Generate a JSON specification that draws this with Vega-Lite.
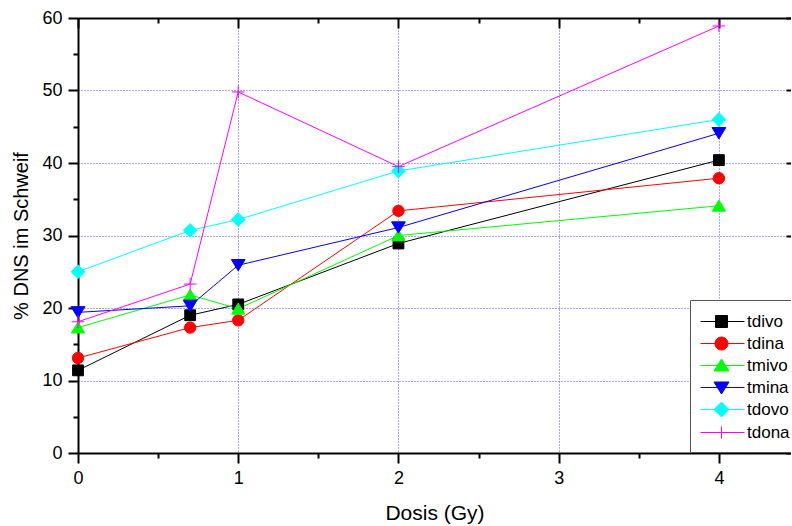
{
  "$schema": "https://vega.github.io/schema/vega-lite/v6.json",
  "autosize": {"type": "none"},
  "padding": {"left": 78, "top": 18, "right": 0, "bottom": 73},
  "width": 713,
  "height": 435,
  "background": "white",
  "config": {"view": {"stroke": null}, "font": "Liberation Sans"},
  "data": {
    "values": [
      {"series": "tdivo", "dose": 0, "pct": 11.4},
      {"series": "tdivo", "dose": 0.7, "pct": 19.0},
      {"series": "tdivo", "dose": 1, "pct": 20.5},
      {"series": "tdivo", "dose": 2, "pct": 28.9},
      {"series": "tdivo", "dose": 4, "pct": 40.4},
      {"series": "tdina", "dose": 0, "pct": 13.1},
      {"series": "tdina", "dose": 0.7, "pct": 17.3},
      {"series": "tdina", "dose": 1, "pct": 18.3},
      {"series": "tdina", "dose": 2, "pct": 33.4},
      {"series": "tdina", "dose": 4, "pct": 37.9},
      {"series": "tmivo", "dose": 0, "pct": 17.3},
      {"series": "tmivo", "dose": 0.7, "pct": 21.8},
      {"series": "tmivo", "dose": 1, "pct": 19.9},
      {"series": "tmivo", "dose": 2, "pct": 30.0},
      {"series": "tmivo", "dose": 4, "pct": 34.1},
      {"series": "tmina", "dose": 0, "pct": 19.4},
      {"series": "tmina", "dose": 0.7, "pct": 20.3},
      {"series": "tmina", "dose": 1, "pct": 25.9},
      {"series": "tmina", "dose": 2, "pct": 31.1},
      {"series": "tmina", "dose": 4, "pct": 44.1},
      {"series": "tdovo", "dose": 0, "pct": 25.0},
      {"series": "tdovo", "dose": 0.7, "pct": 30.7},
      {"series": "tdovo", "dose": 1, "pct": 32.2},
      {"series": "tdovo", "dose": 2, "pct": 38.9},
      {"series": "tdovo", "dose": 4, "pct": 46.0},
      {"series": "tdona", "dose": 0, "pct": 18.1},
      {"series": "tdona", "dose": 0.7, "pct": 23.3},
      {"series": "tdona", "dose": 1, "pct": 49.8},
      {"series": "tdona", "dose": 2, "pct": 39.5},
      {"series": "tdona", "dose": 4, "pct": 58.9}
    ]
  },
  "layer": [
    {
      "mark": {"type": "line", "strokeWidth": 1},
      "encoding": {
        "x": {
          "field": "dose", "type": "quantitative",
          "scale": {"domain": [0, 4.45], "nice": false, "zero": false},
          "axis": {
            "orient": "bottom",
            "values": [0, 0.5, 1, 1.5, 2, 2.5, 3, 3.5, 4],
            "labelExpr": "datum.value % 1 === 0 ? format(datum.value, 'd') : ''",
            "tickSize": {"condition": {"test": "datum.value % 1 !== 0", "value": 5}, "value": 10},
            "tickWidth": 2, "tickColor": "black",
            "domainColor": "black", "domainWidth": 2,
            "labelFont": "Liberation Sans", "labelFontSize": 18, "labelColor": "black",
            "labelPadding": 6, "labelFlush": false, "labelOverlap": false,
            "grid": true, "gridColor": "#4d4dff", "gridDash": [1, 2], "gridWidth": 1,
            "gridOpacity": {"condition": {"test": "datum.value % 1 !== 0", "value": 0}, "value": 1},
            "title": "Dosis (Gy)", "titleFont": "Liberation Sans", "titleFontSize": 21,
            "titleFontWeight": "normal", "titleColor": "black", "titlePadding": 15
          }
        },
        "y": {
          "field": "pct", "type": "quantitative",
          "scale": {"domain": [0, 60], "nice": false},
          "axis": {
            "orient": "left",
            "values": [0, 5, 10, 15, 20, 25, 30, 35, 40, 45, 50, 55, 60],
            "labelExpr": "datum.value % 10 === 0 ? format(datum.value, 'd') : ''",
            "tickSize": {"condition": {"test": "datum.value % 10 !== 0", "value": 5}, "value": 10},
            "tickWidth": 2, "tickColor": "black",
            "domainColor": "black", "domainWidth": 2,
            "labelFont": "Liberation Sans", "labelFontSize": 18, "labelColor": "black",
            "labelPadding": 6, "labelFlush": false, "labelOverlap": false,
            "grid": true, "gridColor": "#4d4dff", "gridDash": [1, 2], "gridWidth": 1,
            "gridOpacity": {"condition": {"test": "datum.value % 10 !== 0", "value": 0}, "value": 1},
            "title": "% DNS im Schweif", "titleFont": "Liberation Sans", "titleFontSize": 20,
            "titleFontWeight": "normal", "titleColor": "black", "titlePadding": 10
          }
        },
        "color": {
          "field": "series", "type": "nominal",
          "scale": {
            "domain": ["tdivo", "tdina", "tmivo", "tmina", "tdovo", "tdona"],
            "range": ["#000000", "#ff0000", "#00ff00", "#0000ff", "#00ffff", "#ff00ff"]
          },
          "legend": {
            "title": null,
            "orient": "none", "legendX": 612, "legendY": 282,
            "padding": 11, "strokeColor": "#555555", "fillColor": "white",
            "labelFont": "Liberation Sans", "labelFontSize": 17, "labelColor": "black",
            "symbolSize": 400, "symbolOffset": 10, "labelOffset": 15, "rowPadding": 3,
            "symbolStrokeWidth": 1,
            "encode": {
              "symbols": {
                "update": {
                  "shape": {"signal": "datum.value === 'tdivo' ? 'M-2.1,0H2.3M-0.6,-0.6H0.6V0.6H-0.6Z' : datum.value === 'tdina' ? 'M-2.1,0H2.3M-0.65,0A0.65,0.65,0,1,0,0.65,0A0.65,0.65,0,1,0,-0.65,0Z' : datum.value === 'tmivo' ? 'M-2.1,0H2.3M0,-0.65L0.75,0.55L-0.75,0.55Z' : datum.value === 'tmina' ? 'M-2.1,0H2.3M0,0.65L0.75,-0.55L-0.75,-0.55Z' : datum.value === 'tdovo' ? 'M-2.1,0H2.3M-0.75,0L0,-0.75L0.75,0L0,0.75Z' : 'M-2.1,0H2.3M0,-0.6V0.6'"}
                }
              }
            }
          }
        }
      }
    },
    {
      "mark": {"type": "point", "filled": true, "size": 144, "strokeWidth": 1, "opacity": 1},
      "encoding": {
        "x": {
          "field": "dose", "type": "quantitative",
          "scale": {"domain": [0, 4.45], "nice": false, "zero": false},
          "axis": {
            "orient": "top",
            "values": [0, 0.5, 1, 1.5, 2, 2.5, 3, 3.5, 4],
            "labels": false, "grid": false, "title": null,
            "tickSize": {"condition": {"test": "datum.value % 1 !== 0", "value": -5}, "value": -10},
            "tickWidth": 2, "tickColor": "black",
            "domainColor": "black", "domainWidth": 2
          }
        },
        "y": {
          "field": "pct", "type": "quantitative",
          "scale": {"domain": [0, 60], "nice": false},
          "axis": {
            "orient": "right",
            "values": [0, 10, 20, 30, 40, 50, 60],
            "labels": false, "grid": false, "title": null, "domain": false,
            "tickSize": -5, "tickWidth": 2, "tickColor": "black"
          }
        },
        "color": {
          "field": "series", "type": "nominal",
          "scale": {
            "domain": ["tdivo", "tdina", "tmivo", "tmina", "tdovo", "tdona"],
            "range": ["#000000", "#ff0000", "#00ff00", "#0000ff", "#00ffff", "#ff00ff"]
          }
        },
        "stroke": {
          "field": "series", "type": "nominal",
          "scale": {
            "domain": ["tdivo", "tdina", "tmivo", "tmina", "tdovo", "tdona"],
            "range": ["#000000", "#ff0000", "#00ff00", "#0000ff", "#00ffff", "#ff00ff"]
          },
          "legend": null
        },
        "shape": {
          "field": "series", "type": "nominal",
          "scale": {
            "domain": ["tdona", "tdovo", "tmina", "tmivo", "tdina", "tdivo"],
            "range": [
              "M-1.05,0H1.05M0,-1.05V1.05",
              "M-1.15,0L0,-1.15L1.15,0L0,1.15Z",
              "M0,0.95L1.15,-0.95L-1.15,-0.95Z",
              "M0,-0.95L1.1,0.9L-1.1,0.9Z",
              "M-0.95,0A0.95,0.95,0,1,0,0.95,0A0.95,0.95,0,1,0,-0.95,0Z",
              "M-0.9,-0.9H0.9V0.9H-0.9Z"
            ]
          },
          "legend": null
        }
      }
    }
  ],
  "resolve": {"axis": {"x": "independent", "y": "independent"}}
}
